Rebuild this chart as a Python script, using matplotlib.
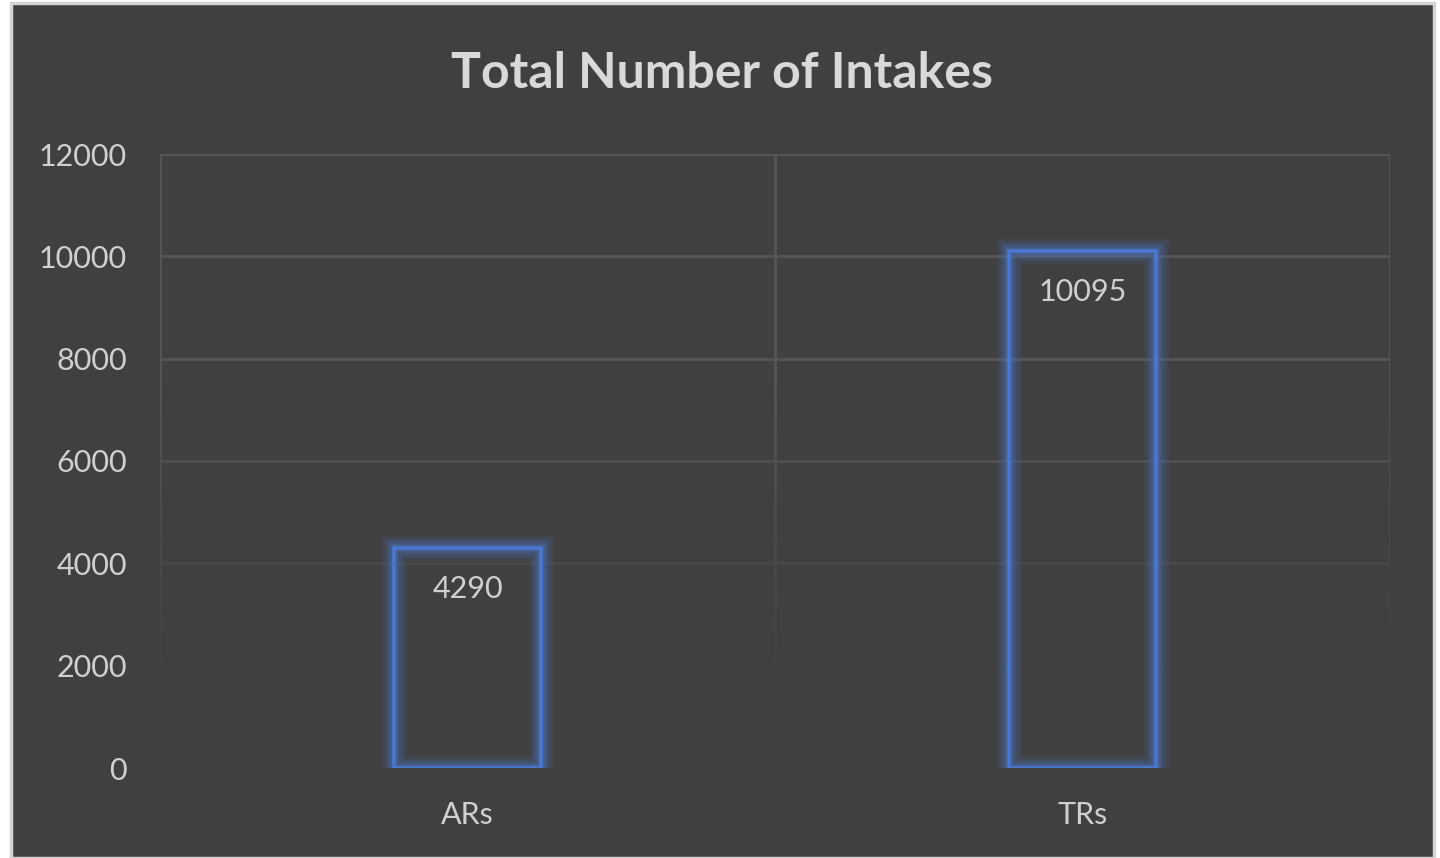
import numpy as np
import matplotlib
matplotlib.use("Agg")
import matplotlib.pyplot as plt
from matplotlib.patches import Rectangle

# Chart data
categories = ["ARs", "TRs"]
intakes = [4290, 10095]
y_ticks = [0, 2000, 4000, 6000, 8000, 10000, 12000]

BG = "#404040"
TEXT = "#d0d0d0"
GRID = "#545454"
BLUE = "#4a78d0"

plt.rcParams["font.family"] = ["Lato", "DejaVu Sans"]

fig = plt.figure(figsize=(14.4, 8.58), dpi=100, facecolor="white")
# dark chart panel with a light gray frame
fig.patches.append(Rectangle((11 / 1440, 0), 1423 / 1440, 855 / 858,
                             transform=fig.transFigure, facecolor=BG,
                             edgecolor="#d4d4d4", linewidth=2.5, zorder=-5))

ax = fig.add_axes([160 / 1440, 1 - 768 / 858, 1230 / 1440, 614 / 858])
ax.set_facecolor("none")
x = np.arange(len(categories))

# gridlines: horizontal at ticks, vertical at category boundaries
for v in y_ticks:
    ax.axhline(v, color=GRID, lw=2.2, zorder=1)
for b in np.arange(-0.5, len(categories), 1.0):
    ax.axvline(b, color=GRID, lw=2.2, zorder=1)

# fade the grid out toward the bottom
n = 1024
fade = np.zeros((n, 2, 4))
fade[..., :3] = matplotlib.colors.to_rgb(BG)
ys = np.linspace(-200, 8000, n)
fade[:, :, 3] = np.clip((7500 - ys) / 5800, 0, 1)[:, None]
ax.imshow(fade, extent=(-0.52, len(categories) - 0.48, -200, 8000), origin="lower",
          aspect="auto", zorder=2, interpolation="nearest")
ax.set_xlim(-0.5, len(categories) - 0.5)
ax.set_ylim(0, 12000)

# hollow bars with a soft glow
w = 0.24
for lw, a in [(18, 0.10), (14, 0.13), (10, 0.18), (6, 0.3)]:
    ax.bar(x, intakes, width=w, facecolor="none", edgecolor=BLUE,
           linewidth=lw, alpha=a, zorder=3)
ax.bar(x, intakes, width=w, facecolor="none", edgecolor=BLUE,
       linewidth=2.6, zorder=4)

for xi, v in zip(x, intakes):
    ax.annotate(str(v), (xi, v), xytext=(0, -29), textcoords="offset points",
                ha="center", va="center", color=TEXT, fontsize=22, zorder=5)

for s in ax.spines.values():
    s.set_visible(False)
ax.set_yticks(y_ticks)
ax.set_xticks(x)
ax.set_xticklabels(categories)
ax.tick_params(axis="both", length=0, colors=TEXT, labelsize=22)
ax.tick_params(axis="y", pad=24)
ax.tick_params(axis="x", pad=24)

fig.text(722 / 1440, 1 - 73 / 858, "Total Number of Intakes", ha="center",
         va="center", color="#d9d9d9", fontsize=36, fontweight="bold")

fig.savefig("out.png", dpi=100, facecolor=fig.get_facecolor())
